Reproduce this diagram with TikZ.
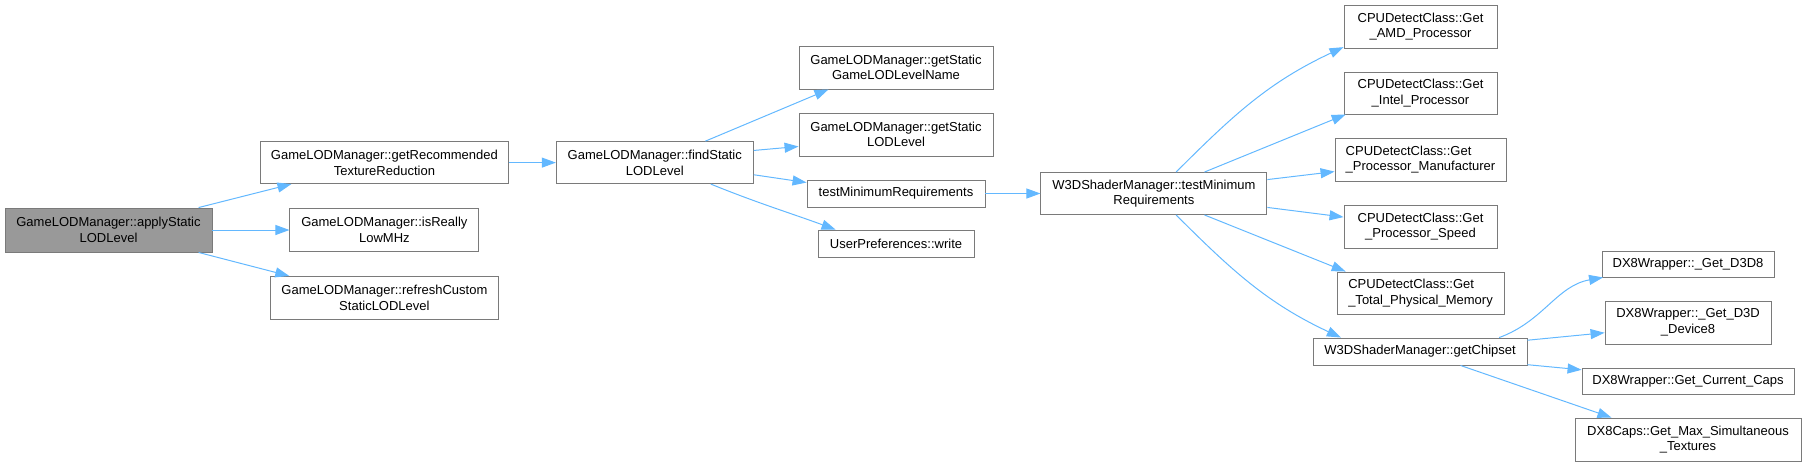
\documentclass[tikz,border=0pt]{standalone}
\usepackage{fontspec}
\setmainfont{Liberation Sans}
\usetikzlibrary{arrows.meta,positioning}
\definecolor{edgeblue}{HTML}{63B8FF}
\definecolor{boxline}{HTML}{7A7A7A}
\definecolor{curfill}{HTML}{999999}

\begin{document}
\begin{tikzpicture}[
  x=1pt, y=-1pt,
  box/.style={draw=boxline, line width=0.9pt, fill=white, align=center, inner sep=0pt, font=\fontsize{13}{15.6}\selectfont},
  cur/.style={box, fill=curfill},
  call/.style={draw=edgeblue, line width=1pt, -{Triangle[length=14pt,width=10pt]}}]
\useasboundingbox (0,0) rectangle (1806,467);
% caller side
\node[cur, minimum width=207pt, minimum height=44pt] (apply) at (108.5,230) {GameLODManager::applyStatic\\LODLevel};
\node[box, minimum width=189pt, minimum height=43pt, right=77pt of apply] (isreally) {GameLODManager::isReally\\LowMHz};
\node[box, minimum width=248pt, minimum height=42pt, above=24pt of isreally] (getrec) {GameLODManager::getRecommended\\TextureReduction};
\node[box, minimum width=228pt, minimum height=43pt, below=24pt of isreally] (refresh) {GameLODManager::refreshCustom\\StaticLODLevel};
\node[box, minimum width=197pt, minimum height=42pt, right=47pt of getrec] (find) {GameLODManager::findStatic\\LODLevel};
% third column
\node[box, minimum width=194pt, minimum height=43pt] (lodname) at (896,67.5) {GameLODManager::getStatic\\GameLODLevelName};
\node[box, minimum width=194pt, minimum height=43pt] (staticlod) at (896,134.5) {GameLODManager::getStatic\\LODLevel};
\node[box, minimum width=178pt, minimum height=27pt] (testmin) at (896,193.5) {testMinimumRequirements};
\node[box, minimum width=156pt, minimum height=27pt] (write) at (896,243.5) {UserPreferences::write};
\node[box, minimum width=226pt, minimum height=42pt, right=55pt of testmin] (w3dtest) {W3DShaderManager::testMinimum\\Requirements};
% cpu detection
\node[box, minimum width=153pt, minimum height=43pt] (amd) at (1420.5,26.5) {CPUDetectClass::Get\\\_AMD\_Processor};
\node[box, minimum width=153pt, minimum height=42pt] (intel) at (1420.5,93) {CPUDetectClass::Get\\\_Intel\_Processor};
\node[box, minimum width=171pt, minimum height=43pt, align=left] (manuf) at (1420.5,159.5) {CPUDetectClass::Get\\\_Processor\_Manufacturer};
\node[box, minimum width=153pt, minimum height=43pt] (speed) at (1420.5,226.5) {CPUDetectClass::Get\\\_Processor\_Speed};
\node[box, minimum width=167pt, minimum height=42pt, align=left] (total) at (1420.5,293) {CPUDetectClass::Get\\\_Total\_Physical\_Memory};
\node[box, minimum width=214pt, minimum height=27pt] (chipset) at (1420,351.5) {W3DShaderManager::getChipset};
% dx8
\node[box, minimum width=172pt, minimum height=26pt] (d3d8) at (1688,264) {DX8Wrapper::\_Get\_D3D8};
\node[box, minimum width=166pt, minimum height=43pt] (device8) at (1688,322.5) {DX8Wrapper::\_Get\_D3D\\\_Device8};
\node[box, minimum width=212pt, minimum height=26pt] (caps) at (1688,381) {DX8Wrapper::Get\_Current\_Caps};
\node[box, minimum width=226pt, minimum height=43pt] (maxsim) at (1688,439.5) {DX8Caps::Get\_Max\_Simultaneous\\\_Textures};
\draw[call] (apply.14) -- (getrec.-167);
\draw[call] (apply.east) -- (isreally.west);
\draw[call] (apply.-14) -- (refresh.167);
\draw[call] (getrec.east) -- (find.west);
\draw[call] (find.23) -- (lodname.-162);
\draw[call] (find.7) -- (staticlod.-173);
\draw[call] (find.-7) -- (testmin.173);
\draw[call] (find.-21) to[out=-22,in=160] (write.167);
\draw[call] (testmin.east) -- (w3dtest.west);
\draw[call] (w3dtest.44) to[out=45,in=-155] (amd.-165);
\draw[call] (w3dtest.23) -- (intel.-164);
\draw[call] (w3dtest.7) -- (manuf.-172);
\draw[call] (w3dtest.-7) -- (speed.173);
\draw[call] (w3dtest.-23) -- (total.164);
\draw[call] (w3dtest.-44) to[out=-45,in=155] (chipset.170);
\draw[call] (chipset.10) to[out=20,in=-170] (d3d8.-171);
\draw[call] (chipset.6) -- (device8.-173);
\draw[call] (chipset.-7) -- (caps.174);
\draw[call] (chipset.-19) -- (maxsim.164);
\end{tikzpicture}
\end{document}
